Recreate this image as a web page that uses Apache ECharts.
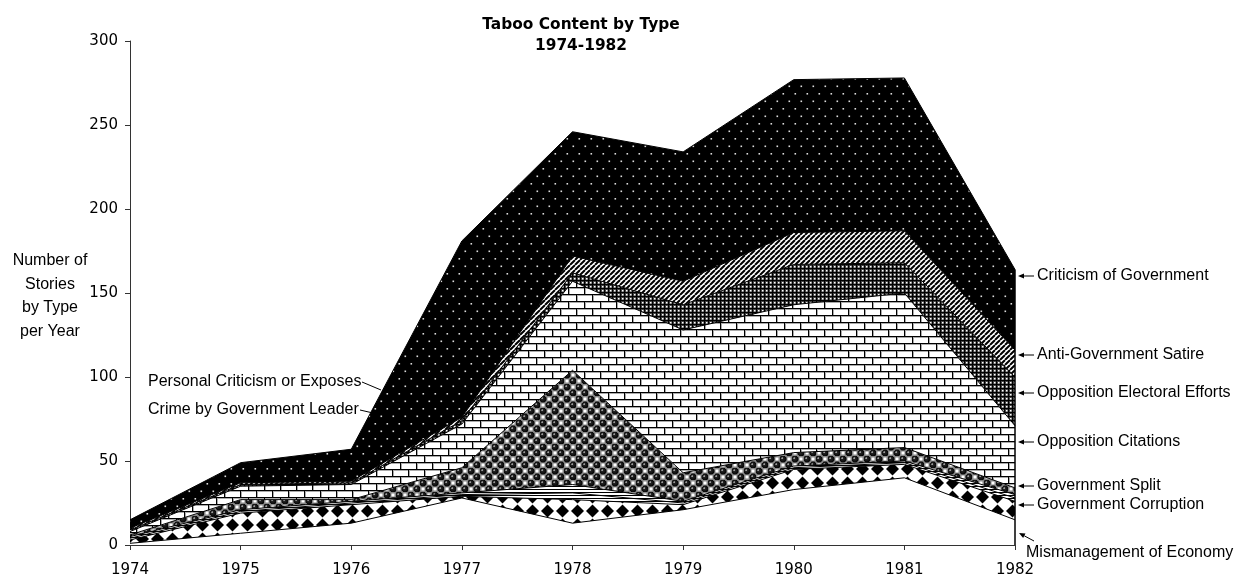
<!DOCTYPE html>
<html>
<head>
<meta charset="utf-8">
<script src="https://cdn.jsdelivr.net/npm/echarts@6/dist/echarts.min.js"></script>
<style>
  html, body { margin: 0; padding: 0; background: #fff; }
  #chart { width: 1242px; height: 578px; }
</style>
</head>
<body>
<div id="chart"></div>
<script>
// categories
var years = ['1974', '1975', '1976', '1977', '1978', '1979', '1980', '1981', '1982'];
// stories per year, stacked from the bottom up
var mismanagement = [1, 7, 13, 28, 13, 21, 33, 40, 15];
var corruption = [2, 12, 11, 1, 14, 3, 12, 8, 11];
var crimeLeader = [1, 1, 1, 1, 4, 1, 1, 1, 2];
var personalCriticism = [1, 1, 1, 1, 5, 1, 1, 1, 2];
var govSplit = [1, 6, 1, 15, 68, 17, 8, 8, 4];
var oppCitations = [2, 8, 9, 26, 53, 85, 88, 92, 37];
var oppElectoral = [1, 1, 1, 2, 5, 15, 24, 18, 29];
var satire = [1, 1, 1, 2, 10, 14, 19, 19, 16];
var criticism = [5, 12, 19, 105, 74, 77, 91, 91, 48];
var yTicks = { min: 0, max: 300, interval: 50 };

var FONT = '"Liberation Sans", Arial, sans-serif';
var WIDE = '"DejaVu Sans", sans-serif';

// little canvas tiles used as fill patterns
function tile(w, h, bg, draw) {
  var c = document.createElement('canvas');
  c.width = w; c.height = h;
  var g = c.getContext('2d');
  g.fillStyle = bg;
  g.fillRect(0, 0, w, h);
  if (draw) draw(g, w, h);
  return { image: c, repeat: 'repeat' };
}

var plain = '#ffffff';

var diamonds = tile(15, 14, '#fff', function (g) {
  g.fillStyle = '#000';
  g.beginPath();
  g.moveTo(7.5, 0.5); g.lineTo(14, 7); g.lineTo(7.5, 13.5); g.lineTo(1, 7);
  g.closePath(); g.fill();
});

var hLines = tile(4, 3, '#fff', function (g) {
  g.fillStyle = '#000';
  g.fillRect(0, 0, 4, 1);
});

var balls = tile(12, 12, '#fff', function (g) {
  g.fillStyle = '#888';
  g.fillRect(6, 0, 6, 6);
  g.fillRect(0, 6, 6, 6);
  g.fillStyle = '#fff';
  g.fillRect(7.5, 1.5, 3, 3);
  g.fillRect(1.5, 7.5, 3, 3);
  [[3, 3], [9, 9]].forEach(function (p) {
    var grd = g.createRadialGradient(p[0] - 1, p[1] - 1, 0.2, p[0], p[1], 3.6);
    grd.addColorStop(0, '#ddd');
    grd.addColorStop(0.3, '#222');
    grd.addColorStop(1, '#000');
    g.fillStyle = grd;
    g.beginPath(); g.arc(p[0], p[1], 3.5, 0, Math.PI * 2); g.fill();
  });
});

var bricks = tile(16, 14, '#fff', function (g) {
  g.fillStyle = '#aaa';
  g.fillRect(0, 1, 16, 1); g.fillRect(0, 8, 16, 1);
  g.fillRect(1, 0, 1, 7); g.fillRect(9, 7, 1, 7);
  g.fillStyle = '#000';
  g.fillRect(0, 0, 16, 1); g.fillRect(0, 7, 16, 1);
  g.fillRect(0, 0, 1, 7); g.fillRect(8, 7, 1, 7);
});

var checker = tile(4, 4, '#444', function (g) {
  g.fillStyle = '#000';
  g.fillRect(0, 0, 4, 1);
  g.fillRect(0, 0, 1, 4);
  g.fillStyle = '#fff';
  g.fillRect(2, 2, 1.5, 1.5);
});

var diagStripes = tile(5, 5, '#fff', function (g) {
  g.strokeStyle = '#000';
  g.lineWidth = 2;
  g.beginPath();
  [-5, 0, 5].forEach(function (k) { g.moveTo(k, 5); g.lineTo(k + 5, 0); });
  g.stroke();
});

var dots = tile(12, 15, '#000', function (g) {
  g.fillStyle = '#ddd';
  g.fillRect(2.5, 3, 1.6, 1.6);
  g.fillRect(8.5, 10.5, 1.6, 1.6);
});

var layers = [
  ['Mismanagement of Economy', mismanagement, plain],
  ['Government Corruption', corruption, diamonds],
  ['Crime by Government Leader', crimeLeader, hLines],
  ['Personal Criticism or Exposes', personalCriticism, hLines],
  ['Government Split', govSplit, balls],
  ['Opposition Citations', oppCitations, bricks],
  ['Opposition Electoral Efforts', oppElectoral, checker],
  ['Anti-Government Satire', satire, diagStripes],
  ['Criticism of Government', criticism, dots]
];

var series = layers.map(function (l) {
  return {
    name: l[0],
    type: 'line',
    stack: 'total',
    data: l[1],
    symbol: 'none',
    lineStyle: { color: '#000', width: 1 },
    areaStyle: { color: l[2], opacity: 1 },
    emphasis: { disabled: true },
    silent: true
  };
});

// closing edge on the right side of the stack
var last = years.length - 1;
var total82 = layers.reduce(function (s, l) { return s + l[1][last]; }, 0);
series[series.length - 1].markLine = {
  silent: true,
  symbol: 'none',
  label: { show: false },
  lineStyle: { color: '#000', width: 1.5, type: 'solid' },
  data: [[{ coord: [years[last], 0] }, { coord: [years[last], total82] }]]
};

function txt(s, x, y, opts) {
  opts = opts || {};
  return {
    type: 'text', x: x, y: y, silent: true,
    style: {
      text: s,
      font: (opts.bold ? 'bold ' : '') + (opts.size || 16) + 'px ' + (opts.family || FONT),
      fill: '#000',
      align: opts.align || 'left',
      verticalAlign: 'middle',
      lineHeight: opts.lineHeight
    }
  };
}
function seg(x1, y1, x2, y2) {
  return { type: 'line', silent: true, shape: { x1: x1, y1: y1, x2: x2, y2: y2 }, style: { stroke: '#000', lineWidth: 1 } };
}
function arrow(x1, y1, x2, y2) {
  var a = Math.atan2(y2 - y1, x2 - x1);
  var L = 6, W = 2.5;
  var bx = x2 - L * Math.cos(a), by = y2 - L * Math.sin(a);
  return [seg(x1, y1, bx, by), {
    type: 'polygon', silent: true,
    shape: { points: [[x2, y2], [bx + W * Math.sin(a), by - W * Math.cos(a)], [bx - W * Math.sin(a), by + W * Math.cos(a)]] },
    style: { fill: '#000' }
  }];
}

var rightLabels = [
  ['Criticism of Government', 276],
  ['Anti-Government Satire', 355],
  ['Opposition Electoral Efforts', 393],
  ['Opposition Citations', 442],
  ['Government Split', 486],
  ['Government Corruption', 505]
];

var graphics = [
  txt('Taboo Content by Type', 581, 25, { bold: true, size: 15.4, family: WIDE, align: 'center' }),
  txt('1974-1982', 581, 46, { bold: true, size: 15.4, family: WIDE, align: 'center' }),
  txt('Number of\nStories\nby Type\nper Year', 50, 296, { align: 'center', lineHeight: 23.5 }),
  txt('Personal Criticism or Exposes', 148, 382),
  seg(362, 382, 381, 390),
  txt('Crime by Government Leader', 148, 410),
  seg(360, 410, 373, 413),
  txt('Mismanagement of Economy', 1026, 553)
].concat(arrow(1034, 541, 1019, 533));

rightLabels.forEach(function (r) {
  graphics.push(txt(r[0], 1037, r[1]));
  graphics = graphics.concat(arrow(1034, r[1], 1018, r[1]));
});

var chart = echarts.init(document.getElementById('chart'), null, { renderer: 'canvas' });
chart.setOption({
  animation: false,
  backgroundColor: '#fff',
  grid: { left: 130, right: 227, top: 41, bottom: 33 },
  xAxis: {
    type: 'category',
    data: years,
    boundaryGap: false,
    axisLine: { lineStyle: { color: '#333', width: 1 } },
    axisTick: { lineStyle: { color: '#333' }, length: 5 },
    axisLabel: { color: '#000', fontSize: 15, fontFamily: WIDE, margin: 18 },
    splitLine: { show: false }
  },
  yAxis: {
    type: 'value',
    min: yTicks.min,
    max: yTicks.max,
    interval: yTicks.interval,
    axisLine: { show: true, lineStyle: { color: '#333', width: 1 } },
    axisTick: { show: true, lineStyle: { color: '#333' }, length: 5 },
    axisLabel: { color: '#000', fontSize: 15, fontFamily: WIDE, margin: 12 },
    splitLine: { show: false }
  },
  series: series,
  graphic: graphics
});
</script>
</body>
</html>
